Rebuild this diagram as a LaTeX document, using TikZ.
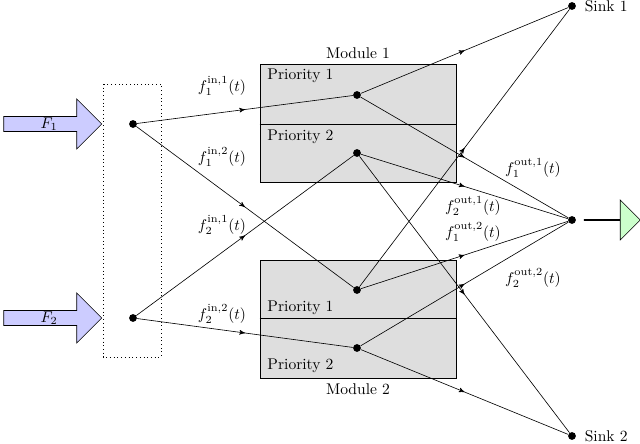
\documentclass[tikz,border=0pt]{standalone}
\usepackage{amsmath}
\usetikzlibrary{positioning,calc,arrows,shapes.arrows,decorations.markings}

\begin{document}
\begin{tikzpicture}[>=stealth',x=0.0226cm,y=-0.0226cm,
		dot/.style={circle,fill,inner sep=0pt,minimum size=5pt},
		mid/.style={decoration={markings,mark=at position .5 with {\arrow{>}}},postaction={decorate}},
		module/.style={draw,fill=black!13,minimum width=196*0.0226cm,minimum height=118*0.0226cm,inner sep=0pt},
		flow/.style={single arrow,draw,inner sep=0pt,minimum height=98*0.0226cm,minimum width=50*0.0226cm,single arrow head extend=16*0.0226cm,single arrow tip angle=90},
	]
		\useasboundingbox (0,0) rectangle (640,444);

		% modules
		\node[module] (mod1) at (358,123) {};
		\node[module] (mod2) at (358,319) {};
		\draw (mod1.west |- 0,124) -- (mod1.east |- 0,124);
		\draw (mod2.west |- 0,318) -- (mod2.east |- 0,318);
		\node[above=0pt of mod1] {Module 1};
		\node[below=0pt of mod2] {Module 2};
		\node[anchor=west] at (262,76)  {Priority 1};
		\node[anchor=west] at (262,137) {Priority 2};
		\node[anchor=west] at (262,308) {Priority 1};
		\node[anchor=west] at (262,366) {Priority 2};

		% sources
		\draw[dotted] (103,84) rectangle (161,357);
		\node[flow,fill=blue!20] (F1) at (49,124) {$F_1$};
		\node[flow,fill=blue!20] (F2) at (49,318) {$F_2$};
		\node[dot] (s1) at (133,124) {};
		\node[dot] (s2) at (133,318) {};

		% priorities
		\node[dot] (m1a) at (357,95) {};
		\node[dot] (m1b) at (357,153) {};
		\node[dot] (m2a) at (357,290) {};
		\node[dot] (m2b) at (357,348) {};

		% sinks
		\node[dot] (sink1) at (572,6) {};
		\node[dot] (sink2) at (572,436) {};
		\node[dot] (out) at (572,220) {};
		\node[right=2pt of sink1] {Sink 1};
		\node[right=2pt of sink2] {Sink 2};
		\node[single arrow,draw,fill=green!20,inner sep=0pt,minimum height=56*0.0226cm,minimum width=40*0.0226cm,single arrow head extend=13*0.0226cm,single arrow tip angle=90] (G) at (612,220) {};

		\path[every edge/.append style={mid}]
			(s1) edge (m1a)
				 edge (m2a)
			(s2) edge (m1b)
				 edge (m2b)
			(m1a) edge (sink1)
				  edge (out)
			(m1b) edge (out)
				  edge (sink2)
			(m2a) edge (sink1)
				  edge (out)
			(m2b) edge (out)
				  edge (sink2)
		;

		% labels
		\node at (222,86)  {$f_1^{\text{in},1}(t)$};
		\node at (222,157) {$f_1^{\text{in},2}(t)$};
		\node at (222,225) {$f_2^{\text{in},1}(t)$};
		\node at (222,314) {$f_2^{\text{in},2}(t)$};
		\node at (533,168) {$f_1^{\text{out},1}(t)$};
		\node at (473,206) {$f_2^{\text{out},1}(t)$};
		\node at (473,232) {$f_1^{\text{out},2}(t)$};
		\node at (533,278) {$f_2^{\text{out},2}(t)$};
	\end{tikzpicture}
\end{document}
